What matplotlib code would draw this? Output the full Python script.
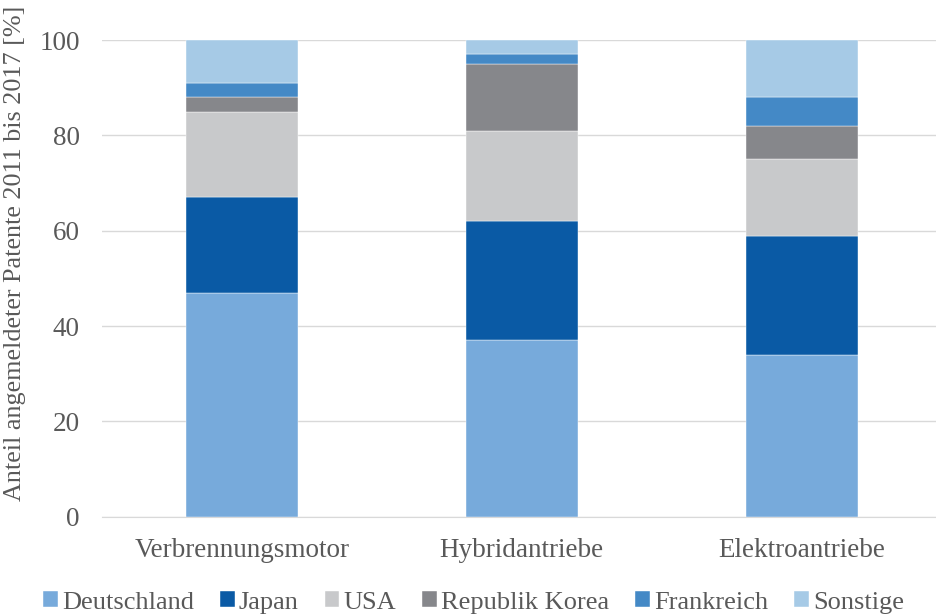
import numpy as np
import matplotlib.pyplot as plt

plt.rcParams["font.family"] = ["Liberation Serif", "DejaVu Serif"]
plt.rcParams["font.size"] = 19.5

categories = ["Verbrennungsmotor", "Hybridantriebe", "Elektroantriebe"]
series = ["Deutschland", "Japan", "USA", "Republik Korea", "Frankreich", "Sonstige"]
deutschland = [47, 37, 34]
japan = [20, 25, 25]
usa = [18, 19, 16]
korea = [3, 14, 7]
frankreich = [3, 2, 6]
sonstige = [9, 3, 12]
colors = ["#77AADB", "#0A5AA5", "#C8C9CB", "#86878B", "#4489C6", "#A6CAE6"]

data = [deutschland, japan, usa, korea, frankreich, sonstige]
txt = "#595959"

fig = plt.figure(figsize=(9.36, 6.16), dpi=100)
ax = fig.add_axes([0.109, 0.161, 0.891, 0.774])

x = np.arange(len(categories))
bottom = np.zeros(len(categories))
for name, vals, c in zip(series, data, colors):
    ax.bar(x, vals, 0.4, bottom=bottom, color=c, label=name, zorder=3,
           edgecolor="white", linewidth=0.3)
    bottom += np.array(vals)

ax.set_xlim(-0.5, 2.48)
ax.set_ylim(0, 100)
ax.set_yticks(range(0, 101, 20))
ax.set_xticks(x)
ax.set_xticklabels(categories)
ax.grid(axis="y", color="#D9D9D9", linewidth=1, zorder=0)
for s in ["top", "right", "left"]:
    ax.spines[s].set_visible(False)
ax.spines["bottom"].set_color("#D9D9D9")
ax.tick_params(length=0, colors=txt, labelsize=19.5)
ax.tick_params(axis="x", pad=15)
ax.tick_params(axis="y", pad=16)
ax.set_ylabel("Anteil angemeldeter Patente 2011 bis 2017 [%]", color=txt, fontsize=18.8)
ax.yaxis.set_label_coords(-0.091, 0.553)

fig.legend(loc="lower center", bbox_to_anchor=(0.506, 0.004), ncol=6, frameon=False,
           borderaxespad=0, borderpad=0,
           handlelength=0.55, handleheight=0.55, handletextpad=0.15, columnspacing=1.0,
           labelcolor=txt, fontsize=19)

fig.savefig("out.png", dpi=100)
